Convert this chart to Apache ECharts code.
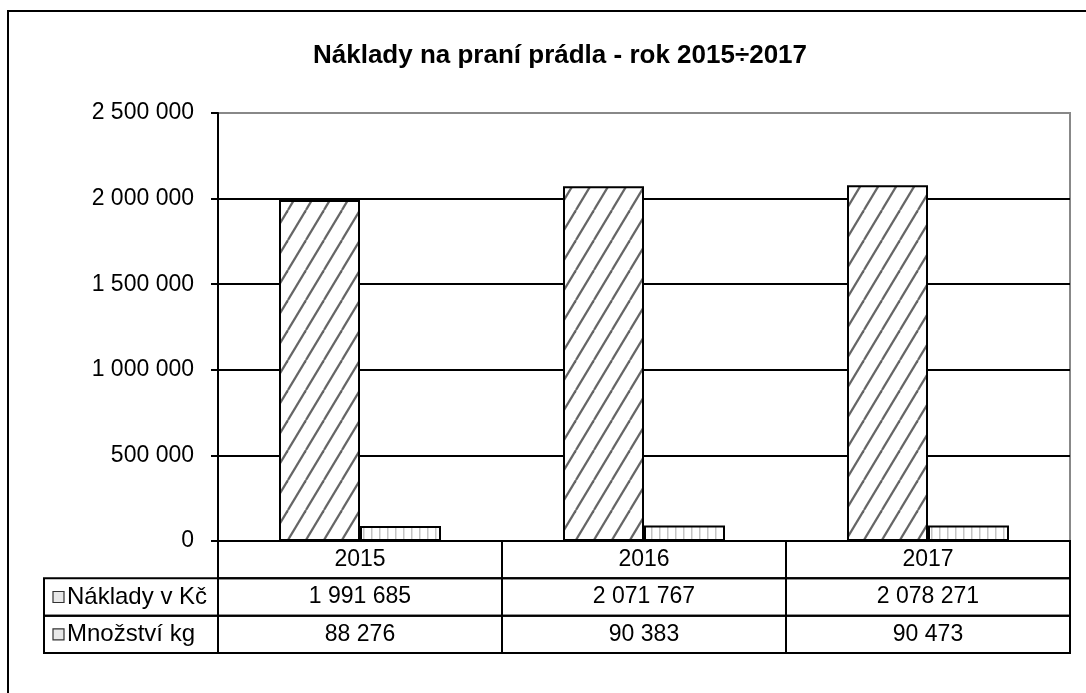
<!DOCTYPE html>
<html>
<head>
<meta charset="utf-8">
<script src="https://cdn.jsdelivr.net/npm/echarts@6/dist/echarts.min.js"></script>
<style>html,body{margin:0;padding:0;background:#fff;}</style>
</head>
<body>
<div id="main" style="width:1086px;height:693px;"></div>
<script type="text/javascript">
// data
var years = ['2015', '2016', '2017'];
var naklady = [1991685, 2071767, 2078271];
var mnozstvi = [88276, 90383, 90473];
var rowNames = ['Náklady v Kč', 'Množství kg'];
var yMin = 0, yMax = 2500000, yStep = 500000;

var FONT = '"Liberation Sans", Arial, sans-serif';
var HEAD = 174 / 284; // width of the legend column in table units

function fmt(v) {
    return String(v).replace(/\B(?=(\d{3})+(?!\d))/g, ' ');
}

// fill patterns
function hatch() {
    var c = document.createElement('canvas');
    c.width = 18; c.height = 30;
    var g = c.getContext('2d');
    g.fillStyle = '#fff';
    g.fillRect(0, 0, 18, 30);
    g.strokeStyle = '#666';
    g.lineWidth = 2.2;
    for (var k = -1; k <= 1; k++) {
        g.beginPath();
        g.moveTo(k * 18, 30);
        g.lineTo(k * 18 + 18, 0);
        g.stroke();
    }
    return c;
}
function stripes() {
    var c = document.createElement('canvas');
    c.width = 8; c.height = 4;
    var g = c.getContext('2d');
    g.fillStyle = '#fff';
    g.fillRect(0, 0, 8, 4);
    g.fillStyle = '#c4c4c4';
    g.fillRect(3, 0, 1.5, 4);
    return c;
}

// table cells: [x0, x1, row, text, isHeader]
var cells = [];
years.forEach(function (y, i) { cells.push([i, i + 1, 0, y, 0]); });
[naklady, mnozstvi].forEach(function (arr, r) {
    cells.push([-HEAD, 0, r + 1, rowNames[r], 1]);
    arr.forEach(function (v, i) { cells.push([i, i + 1, r + 1, fmt(v), 0]); });
});

var myChart = echarts.init(document.getElementById('main'));

var option = {
    animation: false,
    backgroundColor: '#fff',
    title: {
        text: 'Náklady na praní prádla - rok 2015÷2017',
        left: 560,
        top: 43,
        textAlign: 'center',
        padding: 0,
        textStyle: { fontFamily: FONT, fontWeight: 'bold', fontSize: 26, color: '#000' }
    },
    graphic: [{
        type: 'rect',
        silent: true,
        shape: { x: 8, y: 11, width: 1110, height: 700 },
        style: { fill: null, stroke: '#000', lineWidth: 2 }
    }],
    grid: [
        { left: 218, top: 113, right: 16, bottom: 152, show: true, borderColor: '#888', borderWidth: 2 },
        { left: 44, top: 541, right: 16, height: 112 }
    ],
    xAxis: [
        {
            type: 'category',
            gridIndex: 0,
            data: years,
            axisLine: { lineStyle: { color: '#000', width: 2 } },
            axisTick: { show: false },
            axisLabel: { show: false }
        },
        { type: 'value', gridIndex: 1, min: -HEAD, max: 3, show: false }
    ],
    yAxis: [
        {
            type: 'value',
            gridIndex: 0,
            min: yMin,
            max: yMax,
            interval: yStep,
            axisLine: { show: true, lineStyle: { color: '#000', width: 2 } },
            axisTick: { show: true, length: 7, lineStyle: { color: '#000', width: 2 } },
            axisLabel: { margin: 24, color: '#000', fontFamily: FONT, fontSize: 23, formatter: fmt },
            splitLine: { lineStyle: { color: ['#000', '#000', '#000', '#000', '#000', '#888'], width: 2 } }
        },
        { type: 'value', gridIndex: 1, min: 0, max: 3, inverse: true, show: false }
    ],
    series: [
        {
            name: rowNames[0],
            type: 'bar',
            barWidth: 81,
            barGap: '0%',
            data: naklady,
            itemStyle: { color: { image: hatch(), repeat: 'repeat' }, borderColor: '#000', borderWidth: 2 }
        },
        {
            name: rowNames[1],
            type: 'bar',
            barWidth: 81,
            barGap: '0%',
            data: mnozstvi,
            itemStyle: { color: { image: stripes(), repeat: 'repeat' }, borderColor: '#000', borderWidth: 2 }
        },
        {
            type: 'custom',
            xAxisIndex: 1,
            yAxisIndex: 1,
            data: cells.map(function (c) { return [c[0], c[1], c[2]]; }),
            renderItem: function (params, api) {
                var cell = cells[params.dataIndex];
                var p0 = api.coord([cell[0], cell[2]]);
                var p1 = api.coord([cell[1], cell[2] + 1]);
                var mid = (p0[1] + p1[1]) / 2;
                var kids = [{
                    type: 'rect',
                    shape: { x: p0[0], y: p0[1], width: p1[0] - p0[0], height: p1[1] - p0[1] },
                    style: { fill: null, stroke: '#000', lineWidth: 2 }
                }];
                if (cell[4]) {
                    kids.push({
                        type: 'rect',
                        shape: { x: p0[0] + 9, y: mid - 5.5, width: 11, height: 11 },
                        style: { fill: '#e8e8e8', stroke: '#333', lineWidth: 1.2 }
                    });
                    kids.push({
                        type: 'text',
                        style: { text: cell[3], x: p0[0] + 23, y: mid, align: 'left', verticalAlign: 'middle',
                                 fontFamily: FONT, fontSize: 24, fill: '#000' }
                    });
                } else {
                    kids.push({
                        type: 'text',
                        style: { text: cell[3], x: (p0[0] + p1[0]) / 2, y: mid, align: 'center', verticalAlign: 'middle',
                                 fontFamily: FONT, fontSize: 23, fill: '#000' }
                    });
                }
                return { type: 'group', children: kids };
            }
        }
    ]
};

myChart.setOption(option);
</script>
</body>
</html>
